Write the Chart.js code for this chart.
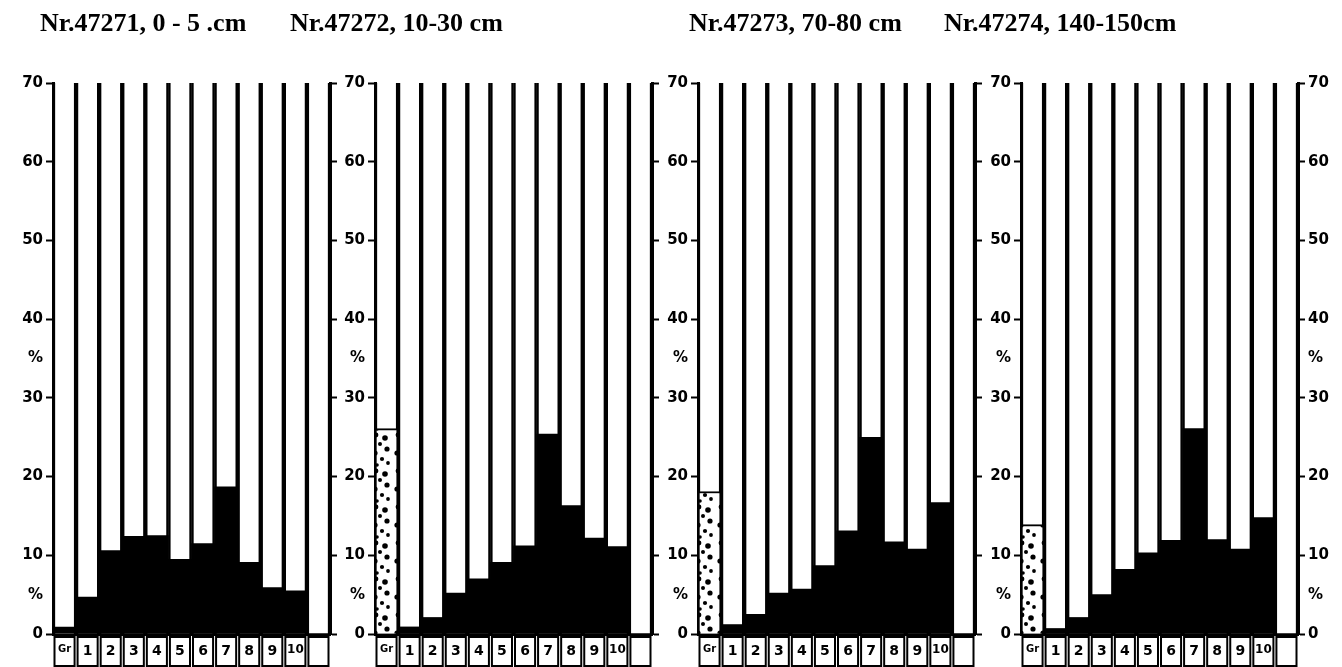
<!DOCTYPE html>
<html>
<head>
<meta charset="utf-8">
<script src="https://cdn.jsdelivr.net/npm/chart.js@4.4.1/dist/chart.umd.min.js"></script>
<style>
  body { margin: 0; background: #fff; width: 1342px; height: 667px; position: relative; overflow: hidden; }
  canvas { position: absolute; top: 0; }
  .title { position: absolute; top: 8px; font: bold 26px "Liberation Serif", serif; color: #000; white-space: nowrap; }
</style>
</head>
<body>
<script>
// grain size classes: gravel (Gr), fractions 1-10, spare column
var categories = ['Gr', '1', '2', '3', '4', '5', '6', '7', '8', '9', '10', ''];
var titles = ['Nr.47271, 0 - 5 .cm', 'Nr.47272, 10-30 cm', 'Nr.47273, 70-80 cm', 'Nr.47274, 140-150cm'];

// percent per class
var s47271 = [0.9, 4.7, 10.6, 12.4, 12.5, 9.5, 11.5, 18.7, 9.1, 5.9, 5.5, 0];
var s47272 = [26.1, 0.9, 2.1, 5.2, 7.0, 9.1, 11.2, 25.4, 16.3, 12.2, 11.1, 0];
var s47273 = [18.1, 1.2, 2.5, 5.2, 5.7, 8.7, 13.1, 25.0, 11.7, 10.8, 16.7, 0];
var s47274 = [13.9, 0.7, 2.1, 5.0, 8.2, 10.3, 11.9, 26.1, 12.0, 10.8, 14.8, 0];

var yTicks = [0, 5, 10, 20, 30, 35, 40, 50, 60, 70];
var pctTicks = [5, 35];
var columnTop = 70;

var samples = [s47271, s47272, s47273, s47274];
var panelLeft = [53, 375, 698, 1021];
var titleLeft = [40, 290, 689, 944];

// dotted fill for the gravel column
function gravelPattern() {
    var c = document.createElement('canvas');
    c.width = 22; c.height = 36;
    var g = c.getContext('2d');
    g.fillStyle = '#fff';
    g.fillRect(0, 0, 22, 36);
    g.fillStyle = '#000';
    var dots = [[5, 3, 2.4], [14, 6, 2.8], [9, 12, 2], [16, 17, 2.6], [4, 21, 2.6], [11, 27, 2.1], [17, 31, 1.9], [6, 33, 1.8]];
    dots.forEach(function (d) {
        g.beginPath();
        g.arc(d[0], d[1], d[2], 0, Math.PI * 2);
        g.fill();
    });
    return g.createPattern(c, 'repeat');
}
var gravel = gravelPattern();

// boxes round the class numbers under each column
var boxRow = {
    id: 'boxRow',
    afterDraw: function (chart) {
        var x = chart.scales.x, ctx = chart.ctx;
        var top = chart.chartArea.bottom + 3;
        var half = (x.getPixelForValue(1) - x.getPixelForValue(0)) / 2;
        ctx.save();
        ctx.strokeStyle = '#000';
        ctx.lineWidth = 2;
        categories.forEach(function (c, k) {
            var cx = x.getPixelForValue(k);
            ctx.strokeRect(cx - half + 1.5, top, half * 2 - 3, 29);
        });
        ctx.restore();
    }
};

var tickFont = { family: 'DejaVu Sans', weight: 'bold', size: 15 };

function makePanel(i) {
    var last = i === 3;
    var rightW = last ? 45 : 10;
    var canvas = document.createElement('canvas');
    canvas.width = 48 + 277 + rightW;
    canvas.height = 667;
    canvas.style.left = (panelLeft[i] - 48) + 'px';
    document.body.appendChild(canvas);

    var t = document.createElement('div');
    t.className = 'title';
    t.style.left = titleLeft[i] + 'px';
    t.textContent = titles[i];
    document.body.appendChild(t);

    new Chart(canvas.getContext('2d'), {
        type: 'bar',
        data: {
            labels: categories,
            datasets: [{
                label: 'fraction',
                data: samples[i],
                // a thin gravel band is drawn solid, taller ones dotted
                backgroundColor: function (ctx) {
                    return ctx.dataIndex === 0 && ctx.raw > 3 ? gravel : '#000';
                },
                borderColor: '#000',
                borderWidth: categories.map(function (c, k) { return k === 0 ? 2 : 0; }),
                order: 1
            }, {
                label: 'column',
                data: categories.map(function () { return columnTop; }),
                backgroundColor: '#fff',
                borderColor: '#000',
                borderWidth: { left: 2.5, right: 2.5, top: 0, bottom: 0 },
                order: 2
            }]
        },
        options: {
            responsive: false,
            animation: false,
            layout: { padding: { top: 83, bottom: 0, left: 0, right: 0 } },
            datasets: { bar: { grouped: false, barPercentage: 1, categoryPercentage: 1 } },
            plugins: { legend: { display: false }, tooltip: { enabled: false } },
            scales: {
                x: {
                    grid: { drawOnChartArea: false, drawTicks: false },
                    border: { color: '#000', width: 3 },
                    ticks: {
                        color: '#000',
                        padding: 9,
                        maxRotation: 0,
                        autoSkip: false,
                        font: function (ctx) {
                            var size = ctx.index === 0 ? 10 : (ctx.index === 10 ? 12 : 14);
                            return { family: 'DejaVu Sans', weight: 'bold', size: size };
                        }
                    },
                    afterFit: function (s) { s.height = 33; }
                },
                y: {
                    min: 0, max: 70,
                    afterBuildTicks: function (s) { s.ticks = yTicks.map(function (v) { return { value: v }; }); },
                    ticks: {
                        color: '#000', font: tickFont, padding: 3,
                        callback: function (v) { return pctTicks.indexOf(v) >= 0 ? '%' : v; }
                    },
                    grid: {
                        drawOnChartArea: false, tickLength: 7, tickWidth: 2,
                        tickColor: function (ctx) { return ctx.tick && pctTicks.indexOf(ctx.tick.value) >= 0 ? 'rgba(0,0,0,0)' : '#000'; }
                    },
                    border: { color: '#000', width: 3 },
                    afterFit: function (s) { s.width = 48; }
                },
                y2: {
                    position: 'right',
                    min: 0, max: 70,
                    afterBuildTicks: function (s) { s.ticks = yTicks.map(function (v) { return { value: v }; }); },
                    ticks: {
                        display: last,
                        color: '#000', font: tickFont, padding: 3,
                        callback: function (v) { return pctTicks.indexOf(v) >= 0 ? '%' : v; }
                    },
                    grid: {
                        drawOnChartArea: false, tickLength: 7, tickWidth: 2,
                        tickColor: function (ctx) { return ctx.tick && pctTicks.indexOf(ctx.tick.value) >= 0 ? 'rgba(0,0,0,0)' : '#000'; }
                    },
                    border: { color: '#000', width: 3 },
                    afterFit: function (s) { s.width = rightW; }
                }
            }
        },
        plugins: [boxRow]
    });
}

for (var i = 0; i < 4; i++) makePanel(i);
</script>
</body>
</html>
